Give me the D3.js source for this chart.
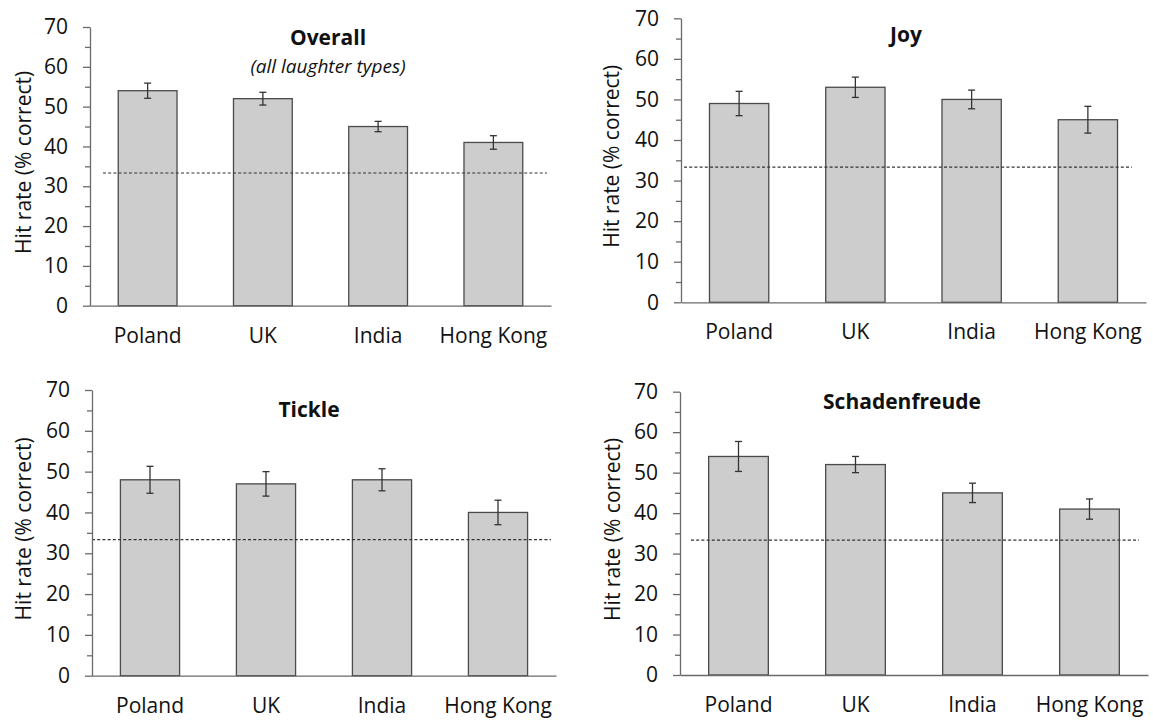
<!DOCTYPE html>
<html>
<head>
<meta charset="utf-8">
<script src="https://cdn.jsdelivr.net/npm/d3@7"></script>
<style>
  body { margin: 0; background: #fff; }
  svg { display: block; font-family: "Open Sans", sans-serif; }
</style>
</head>
<body>
<svg width="1153" height="720"></svg>
<script>
// данные
const countries = ["Poland", "UK", "India", "Hong Kong"];
const titles = ["Overall", "Joy", "Tickle", "Schadenfreude"];
const subtitles = ["(all laughter types)", "", "", ""];
const overallVals = [54, 52, 45, 41];
const overallErr = [1.9, 1.6, 1.3, 1.7];
const joyVals = [49, 53, 50, 45];
const joyErr = [3.0, 2.5, 2.3, 3.3];
const tickleVals = [48, 47, 48, 40];
const tickleErr = [3.3, 3.0, 2.7, 3.0];
const schadVals = [54, 52, 45, 41];
const schadErr = [3.7, 2.0, 2.4, 2.5];
const chance = 33.33;
const yTicks = [0, 10, 20, 30, 40, 50, 60, 70];
const yMinor = [5, 15, 25, 35, 45, 55, 65];
const yLabel = "Hit rate (% correct)";

const values = [overallVals, joyVals, tickleVals, schadVals];
const errors = [overallErr, joyErr, tickleErr, schadErr];

// расположение панелей
const layout = [
  {left: 90, right: 551, top: 27, bottom: 305.7, titleX: 328, titleY: 45, labelX: 24, dash: [103, 547]},
  {left: 681, right: 1146, top: 18.3, bottom: 302.3, titleX: 906, titleY: 42, labelX: 612, dash: [684, 1132]},
  {left: 92, right: 556, top: 390, bottom: 675.7, titleX: 309, titleY: 417, labelX: 24, dash: [92, 551]},
  {left: 680, right: 1148, top: 391.7, bottom: 675, titleX: 902, titleY: 409, labelX: 613, dash: [691, 1139]}
];

const svg = d3.select("svg");
const textColor = "#111";
const axisColor = "#6a6a6a";
const font = "'Open Sans', sans-serif";

function drawPanel(i) {
  const L = layout[i];
  const data = countries.map((c, k) => ({country: c, value: values[i][k], err: errors[i][k]}));

  const scX = d3.scaleBand()
    .domain(countries)
    .range([L.left, L.right])
    .paddingInner(0.49)
    .paddingOuter(0.245);
  const scY = d3.scaleLinear()
    .domain([0, 70])
    .range([L.bottom, L.top]);

  const g = svg.append("g");

  // бары
  g.selectAll(".bar")
    .data(data)
    .enter()
    .append("rect")
    .attr("x", d => scX(d.country))
    .attr("y", d => scY(d.value))
    .attr("width", scX.bandwidth())
    .attr("height", d => scY(0) - scY(d.value))
    .style("fill", "#cdcdcd")
    .style("stroke", "#4a4a4a")
    .style("stroke-width", 1.3);

  // линия случайного угадывания
  g.append("line")
    .attr("x1", L.dash[0])
    .attr("x2", L.dash[1])
    .attr("y1", scY(chance))
    .attr("y2", scY(chance))
    .style("stroke", "#333")
    .style("stroke-width", 1.2)
    .style("stroke-dasharray", "3,2.2");

  // планки погрешностей
  const cx = d => scX(d.country) + scX.bandwidth() / 2;
  const eb = g.selectAll(".err")
    .data(data)
    .enter()
    .append("g")
    .style("stroke", "#333")
    .style("stroke-width", 1.3);
  eb.append("line")
    .attr("x1", cx).attr("x2", cx)
    .attr("y1", d => scY(d.value - d.err))
    .attr("y2", d => scY(d.value + d.err));
  eb.append("line")
    .attr("x1", d => cx(d) - 3.5).attr("x2", d => cx(d) + 3.5)
    .attr("y1", d => scY(d.value + d.err))
    .attr("y2", d => scY(d.value + d.err));
  eb.append("line")
    .attr("x1", d => cx(d) - 3.5).attr("x2", d => cx(d) + 3.5)
    .attr("y1", d => scY(d.value - d.err))
    .attr("y2", d => scY(d.value - d.err));

  // ось Y: основные и промежуточные деления
  const axisY = d3.axisLeft(scY)
    .tickValues(yTicks)
    .tickSize(7)
    .tickSizeOuter(0)
    .tickPadding(15);
  const gy = g.append("g")
    .attr("transform", `translate(${L.left}, 0)`)
    .call(axisY);
  gy.select(".domain").style("stroke", axisColor).style("stroke-width", 1.3);
  gy.selectAll(".tick line").style("stroke", axisColor).style("stroke-width", 1.3);
  gy.selectAll(".tick text")
    .style("font-family", font)
    .style("font-size", "21px")
    .style("fill", textColor);

  const gyMinor = g.append("g")
    .attr("transform", `translate(${L.left}, 0)`)
    .call(d3.axisLeft(scY).tickValues(yMinor).tickSize(5).tickFormat(""));
  gyMinor.select(".domain").remove();
  gyMinor.selectAll(".tick line").style("stroke", axisColor).style("stroke-width", 1.3);

  // ось X
  const gx = g.append("g")
    .attr("transform", `translate(0, ${L.bottom})`)
    .call(d3.axisBottom(scX).tickSize(0).tickSizeOuter(0).tickPadding(22));
  gx.select(".domain").style("stroke", axisColor).style("stroke-width", 1.3);
  gx.selectAll(".tick text")
    .style("font-family", font)
    .style("font-size", "21px")
    .style("fill", textColor);

  // подпись оси Y
  g.append("text")
    .attr("transform", `translate(${L.labelX}, ${(L.top + L.bottom) / 2 - 4}) rotate(-90)`)
    .attr("text-anchor", "middle")
    .attr("dy", "0.35em")
    .style("font-size", "21px")
    .style("fill", textColor)
    .text(yLabel);

  // заголовок
  g.append("text")
    .attr("x", L.titleX)
    .attr("y", L.titleY)
    .attr("text-anchor", "middle")
    .style("font-size", "21px")
    .style("font-weight", "bold")
    .style("fill", textColor)
    .text(titles[i]);
  if (subtitles[i]) {
    g.append("text")
      .attr("x", L.titleX)
      .attr("y", L.titleY + 28)
      .attr("text-anchor", "middle")
      .style("font-size", "19px")
      .style("font-style", "italic")
      .style("fill", textColor)
      .text(subtitles[i]);
  }
}

titles.forEach((t, i) => drawPanel(i));
</script>
</body>
</html>
